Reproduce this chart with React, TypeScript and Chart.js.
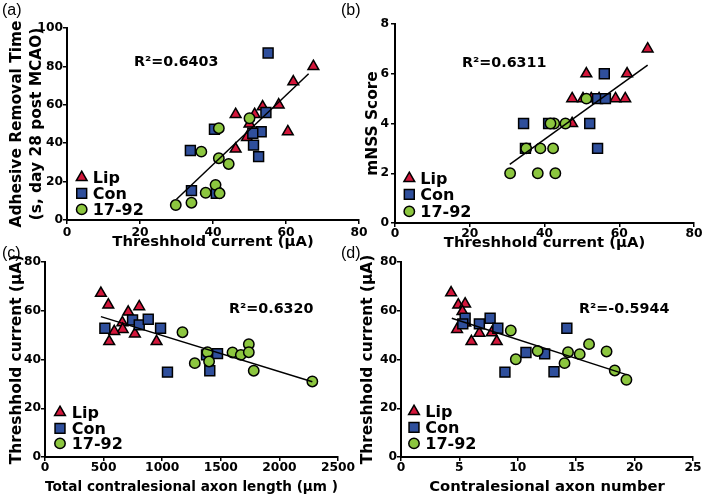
import React, { useEffect, useRef } from 'react';
import { Chart, registerables } from 'chart.js';

Chart.register(...registerables);

const FONT = "'DejaVu Sans', sans-serif";
const RED = '#d3173b';
const BLUE = '#2f4f9c';
const GREEN = '#8cc63f';

// ---------- Panel (a): threshold current vs adhesive removal time ----------
const aLipX = [67.5, 62, 60.5, 58, 53.6, 51.4, 50, 49.3, 46.2, 46.2];
const aLipY = [80, 72, 46, 60, 59, 55, 50, 43, 55, 37];
const aConX = [55.1, 54.5, 53.2, 50.9, 51.1, 52.5, 40.4, 33.8, 34.1, 40.9];
const aConY = [87, 56, 46, 45.2, 39, 33, 47.3, 36.2, 15.3, 13.9];
const aDrugX = [50, 41.6, 36.8, 41.6, 44.3, 40.7, 38, 41.8, 34.1, 29.8];
const aDrugY = [53, 47.8, 35.6, 32.2, 29.2, 18.3, 14.2, 13.9, 9, 7.8];
const aFitX = [30, 66.2];
const aFitY = [10.8, 76.2];
const aXTicks = [0, 20, 40, 60, 80];
const aYTicks = [0, 20, 40, 60, 80, 100];

// ---------- Panel (b): threshold current vs mNSS ----------
const bLipX = [67.6, 62.1, 51.2, 61.6, 59, 50.3, 47.4, 54.6, 52.5, 47.4];
const bLipY = [7, 6, 6, 5, 5, 5, 5, 5, 5, 4];
const bConX = [56, 54.2, 56.3, 52.1, 54.2, 34.4, 34.9, 41.1];
const bConY = [6, 5, 5, 4, 3, 4, 3, 4];
const bDrugX = [51.2, 42.6, 45.6, 41.6, 35.1, 38.9, 42.3, 30.8, 38.2, 42.9];
const bDrugY = [5, 4, 4, 4, 3, 3, 3, 2, 2, 2];
const bFitX = [30.7, 67.6];
const bFitY = [2.36, 6.35];
const bXTicks = [0, 20, 40, 60, 80];
const bYTicks = [0, 2, 4, 6, 8];

// ---------- Panel (c): axon length vs threshold current ----------
const cLipX = [477, 540, 804, 710, 660, 663, 591, 767, 548, 952];
const cLipY = [67.2, 62.4, 61.7, 59.5, 55.1, 52.4, 51.5, 50.5, 47.4, 47.4];
const cConX = [511, 747, 804, 881, 986, 1472, 1378, 1406, 1045];
const cConY = [52.8, 56.2, 54.2, 56.5, 52.8, 42.4, 41.9, 35.4, 34.8];
const cDrugX = [1173, 1386, 1400, 1278, 1600, 1671, 1739, 1739, 1781, 2281];
const cDrugY = [51.2, 43, 39.2, 38.5, 42.9, 41.9, 46.3, 43, 35.4, 31];
const cFitX = [477, 2281];
const cFitY = [57.6, 30.9];
const cXTicks = [0, 500, 1000, 1500, 2000, 2500];
const cYTicks = [0, 20, 40, 60, 80];

// ---------- Panel (d): axon number vs threshold current ----------
const dLipX = [4.29, 4.9, 5.49, 5.26, 4.8, 6.03, 6.71, 7.77, 8.2, 5.5];
const dLipY = [67.4, 62.4, 62.8, 59.7, 52.4, 47.4, 50.8, 51, 47.4, 55];
const dConX = [5.49, 5.29, 6.71, 7.63, 8.29, 14.2, 10.7, 12.3, 8.9, 13.1];
const dConY = [56.9, 54.6, 54.6, 56.9, 52.8, 52.8, 42.9, 42.3, 34.8, 35];
const dDrugX = [9.4, 9.83, 11.7, 16.1, 14.3, 15.3, 17.6, 14, 18.3, 19.3];
const dDrugY = [51.9, 40.1, 43.5, 46.3, 43, 42.2, 43.3, 38.5, 35.5, 31.7];
const dFitX = [4.35, 19.3];
const dFitY = [56.9, 33.8];
const dXTicks = [0, 5, 10, 15, 20, 25];
const dYTicks = [0, 20, 40, 60, 80];

const groupNames = ['Lip', 'Con', '17-92'];

const pts = (xs: number[], ys: number[]) => xs.map((x, i) => ({ x, y: ys[i] }));

type PanelCfg = {
  label: string;
  r2: string;
  xTitle: string;
  yTitle: string | string[];
  lip: [number[], number[]];
  con: [number[], number[]];
  drug: [number[], number[]];
  fit: [number[], number[]];
  xTicks: number[];
  yTicks: number[];
  area: { l: number; r: number; t: number; b: number };
  yTitleX: number;
  xTitleY: number;
  xTitleSize: number;
  yTitleSize: number;
  xTickPad: number;
  yTickPad: number;
  legend: { mx: number; tx: number; rows: number[] };
  r2Pos: { x: number; y: number };
  labelPos: { x: number; y: number };
};

const panels: PanelCfg[] = [
  {
    label: '(a)', r2: 'R\u00B2=0.6403',
    xTitle: 'Threshhold current (\u00B5A)',
    yTitle: ['Adhesive Removal Time', '(s, day 28 post MCAO)'],
    lip: [aLipX, aLipY], con: [aConX, aConY], drug: [aDrugX, aDrugY], fit: [aFitX, aFitY],
    xTicks: aXTicks, yTicks: aYTicks,
    area: { l: 67, r: 359, t: 28, b: 220 },
    yTitleX: 17, xTitleY: 242, xTitleSize: 14.8, yTitleSize: 15.4, xTickPad: 1, yTickPad: 0,
    legend: { mx: 81.7, tx: 92.7, rows: [183, 199, 215] },
    r2Pos: { x: 134, y: 66 }, labelPos: { x: 2, y: 15 },
  },
  {
    label: '(b)', r2: 'R\u00B2=0.6311',
    xTitle: 'Threshhold current (\u00B5A)',
    yTitle: 'mNSS Score',
    lip: [bLipX, bLipY], con: [bConX, bConY], drug: [bDrugX, bDrugY], fit: [bFitX, bFitY],
    xTicks: bXTicks, yTicks: bYTicks,
    area: { l: 395, r: 694, t: 24, b: 223 },
    yTitleX: 373, xTitleY: 243, xTitleSize: 14.8, yTitleSize: 15.4, xTickPad: -1, yTickPad: 2,
    legend: { mx: 409.3, tx: 420.3, rows: [184, 200, 217] },
    r2Pos: { x: 462, y: 66.5 }, labelPos: { x: 341, y: 15 },
  },
  {
    label: '(c)', r2: 'R\u00B2=0.6320',
    xTitle: 'Total contralesional axon length (\u00B5m )',
    yTitle: 'Threshhold current (\u00B5A)',
    lip: [cLipX, cLipY], con: [cConX, cConY], drug: [cDrugX, cDrugY], fit: [cFitX, cFitY],
    xTicks: cXTicks, yTicks: cYTicks,
    area: { l: 45, r: 338, t: 262, b: 457 },
    yTitleX: 17, xTitleY: 487, xTitleSize: 14.4, yTitleSize: 15.4, xTickPad: -1, yTickPad: 0,
    legend: { mx: 60, tx: 71.7, rows: [418, 434, 449] },
    r2Pos: { x: 229, y: 313 }, labelPos: { x: 2, y: 258 },
  },
  {
    label: '(d)', r2: 'R\u00B2=-0.5944',
    xTitle: 'Contralesional axon number',
    yTitle: 'Threshhold current (\u00B5A)',
    lip: [dLipX, dLipY], con: [dConX, dConY], drug: [dDrugX, dDrugY], fit: [dFitX, dFitY],
    xTicks: dXTicks, yTicks: dYTicks,
    area: { l: 401, r: 693, t: 262, b: 457 },
    yTitleX: 368, xTitleY: 487, xTitleSize: 14.8, yTitleSize: 15.4, xTickPad: -1, yTickPad: 0,
    legend: { mx: 414, tx: 425.3, rows: [417, 433, 449] },
    r2Pos: { x: 579, y: 313 }, labelPos: { x: 341, y: 258 },
  },
];

const W = 704;
const H = 498;
const TRI_R = 6.2;
const RECT_R = 7;
const CIRC_R = 5.2;

function drawMarker(ctx: CanvasRenderingContext2D, kind: string, x: number, y: number, fill: string) {
  ctx.beginPath();
  if (kind === 'triangle') {
    let rad = 0;
    ctx.moveTo(x + Math.sin(rad) * TRI_R, y - Math.cos(rad) * TRI_R);
    rad += (2 * Math.PI) / 3;
    ctx.lineTo(x + Math.sin(rad) * TRI_R, y - Math.cos(rad) * TRI_R);
    rad += (2 * Math.PI) / 3;
    ctx.lineTo(x + Math.sin(rad) * TRI_R, y - Math.cos(rad) * TRI_R);
    ctx.closePath();
  } else if (kind === 'rect') {
    const s = Math.SQRT1_2 * RECT_R;
    ctx.rect(x - s, y - s, 2 * s, 2 * s);
  } else {
    ctx.arc(x, y, CIRC_R, 0, Math.PI * 2);
  }
  ctx.fillStyle = fill;
  ctx.fill();
  ctx.lineWidth = 1.5;
  ctx.strokeStyle = '#000';
  ctx.stroke();
}

function Panel({ cfg }: { cfg: PanelCfg }) {
  const ref = useRef<HTMLCanvasElement>(null);
  useEffect(() => {
    if (!ref.current) return;
    const A = cfg.area;
    const yLH = 1.3;
    const xLH = 1.2;
    const xAxisBottom = cfg.xTitleY + (cfg.xTitleSize * xLH) / 2;
    const Hx = xAxisBottom - A.b;
    const yBoxLeft = cfg.yTitleX - (cfg.yTitleSize * yLH) / 2;
    const Wy = A.l - yBoxLeft;

    const overlay = {
      id: 'overlay' + cfg.label,
      afterDraw(chart: any) {
        const ctx: CanvasRenderingContext2D = chart.ctx;
        ctx.save();
        const kinds = ['triangle', 'rect', 'circle'];
        const fills = [RED, BLUE, GREEN];
        ctx.font = `bold 16px ${FONT}`;
        ctx.textBaseline = 'alphabetic';
        ctx.textAlign = 'left';
        groupNames.forEach((name, i) => {
          const base = cfg.legend.rows[i];
          drawMarker(ctx, kinds[i], cfg.legend.mx, base - 5.6, fills[i]);
          ctx.fillStyle = '#000';
          ctx.fillText(name, cfg.legend.tx, base);
        });
        ctx.fillStyle = '#000';
        ctx.font = `bold 14.3px ${FONT}`;
        ctx.fillText(cfg.r2, cfg.r2Pos.x, cfg.r2Pos.y);
        ctx.font = `16px 'Liberation Sans', sans-serif`;
        ctx.fillText(cfg.label, cfg.labelPos.x, cfg.labelPos.y);
        ctx.restore();
      },
    };

    const tickFont = { family: FONT, size: 12.3, weight: 'bold' as const };
    const chart = new Chart(ref.current, {
      type: 'scatter',
      data: {
        datasets: [
          {
            type: 'line', label: 'fit', data: pts(cfg.fit[0], cfg.fit[1]),
            borderColor: '#000', borderWidth: 1.5, pointRadius: 0, showLine: true, fill: false, order: 0,
          } as any,
          {
            label: groupNames[2], data: pts(cfg.drug[0], cfg.drug[1]), pointStyle: 'circle', pointRadius: CIRC_R,
            backgroundColor: GREEN, borderColor: '#000', borderWidth: 1.5, order: 1,
          },
          {
            label: groupNames[1], data: pts(cfg.con[0], cfg.con[1]), pointStyle: 'rect', pointRadius: RECT_R,
            backgroundColor: BLUE, borderColor: '#000', borderWidth: 1.5, order: 2,
          },
          {
            label: groupNames[0], data: pts(cfg.lip[0], cfg.lip[1]), pointStyle: 'triangle', pointRadius: TRI_R,
            backgroundColor: RED, borderColor: '#000', borderWidth: 1.5, order: 3,
          },
        ],
      },
      options: {
        responsive: false,
        animation: false,
        devicePixelRatio: 1,
        events: [],
        layout: {
          padding: { left: yBoxLeft, top: A.t, right: W - A.r, bottom: H - xAxisBottom },
        },
        plugins: { legend: { display: false }, tooltip: { enabled: false }, title: { display: false } },
        scales: {
          x: {
            type: 'linear',
            min: cfg.xTicks[0],
            max: cfg.xTicks[cfg.xTicks.length - 1],
            afterBuildTicks: (s: any) => { s.ticks = cfg.xTicks.map((v) => ({ value: v })); },
            afterFit: (s: any) => { s.height = Hx; },
            ticks: {
              callback: (v: any) => String(v), color: '#000', font: tickFont, padding: cfg.xTickPad,
              maxRotation: 0, autoSkip: false,
            },
            grid: { display: true, drawOnChartArea: false, drawTicks: true, tickLength: 4, color: '#000', lineWidth: 1.5 },
            border: { display: true, color: '#000', width: 2 },
            title: {
              display: true, text: cfg.xTitle, color: '#000', padding: 0,
              font: { family: FONT, size: cfg.xTitleSize, weight: 'bold', lineHeight: xLH },
            },
          },
          y: {
            type: 'linear',
            min: cfg.yTicks[0],
            max: cfg.yTicks[cfg.yTicks.length - 1],
            afterBuildTicks: (s: any) => { s.ticks = cfg.yTicks.map((v) => ({ value: v })); },
            afterFit: (s: any) => { s.width = Wy; },
            ticks: { callback: (v: any) => String(v), color: '#000', font: tickFont, padding: cfg.yTickPad, autoSkip: false },
            grid: { display: true, drawOnChartArea: false, drawTicks: true, tickLength: 4, color: '#000', lineWidth: 1.5 },
            border: { display: true, color: '#000', width: 2 },
            title: {
              display: true, text: cfg.yTitle, color: '#000', padding: 0,
              font: { family: FONT, size: cfg.yTitleSize, weight: 'bold', lineHeight: yLH },
            },
          },
        },
      },
      plugins: [overlay],
    } as any);
    return () => chart.destroy();
  }, [cfg]);
  return (
    <canvas
      ref={ref}
      width={W}
      height={H}
      style={{ position: 'absolute', left: 0, top: 0, width: W, height: H }}
    />
  );
}

export default function App() {
  return (
    <div style={{ position: 'fixed', left: 0, top: 0, width: W, height: H, background: '#fff' }}>
      {panels.map((p) => (
        <Panel key={p.label} cfg={p} />
      ))}
    </div>
  );
}
